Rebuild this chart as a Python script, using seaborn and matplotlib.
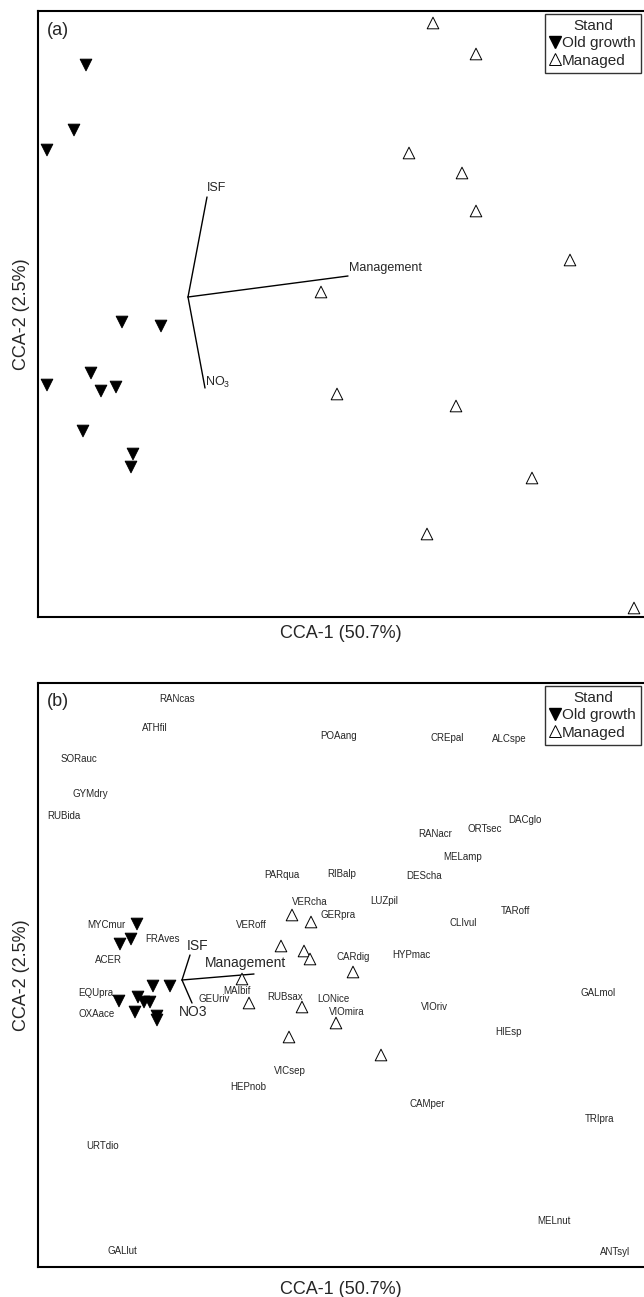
import pandas as pd
import numpy as np
import matplotlib.pyplot as plt
import seaborn as sns
from matplotlib.lines import Line2D

sns.set_style("white")
plt.rcParams['font.family'] = ['Liberation Sans', 'DejaVu Sans']
plt.rcParams['mathtext.default'] = 'regular'

# Site scores (CCA-1, CCA-2), 12 old growth + 12 managed stands
stand = ['Old growth'] * 12 + ['Managed'] * 12

# panel (a)
site_x_a = [-1.02, -1.14, -1.41, -0.66, -0.27, -1.41, -0.97, -0.87, -0.72, -1.05, -0.55, -0.57,
            2.45, 2.88, 2.21, 2.74, 2.88, 3.82, 1.33, 1.49, 2.68, 3.44, 2.39, 4.46]
site_y_a = [2.32, 1.67, 1.47, -0.25, -0.29, -0.88, -0.76, -0.94, -0.90, -1.34, -1.57, -1.70,
            2.74, 2.43, 1.44, 1.24, 0.86, 0.37, 0.05, -0.97, -1.09, -1.81, -2.37, -3.11]

# panel (b)
site_x_b = [-0.45, -0.51, -0.62, -0.29, -0.12, -0.63, -0.44, -0.38, -0.32, -0.47, -0.25, -0.25,
            1.10, 1.29, 0.99, 1.22, 1.28, 1.71, 0.60, 0.67, 1.20, 1.54, 1.07, 1.99]
site_y_b = [0.56, 0.41, 0.36, -0.06, -0.06, -0.21, -0.17, -0.22, -0.22, -0.32, -0.36, -0.40,
            0.65, 0.58, 0.34, 0.29, 0.21, 0.08, 0.01, -0.23, -0.27, -0.43, -0.57, -0.75]

# Environmental vectors
env_a = ['ISF', 'Management', 'NO$_3$']
env_x_a = [0.19, 1.60, 0.17]
env_y_a = [1.00, 0.21, -0.91]
env_lx_a = [0.29, 1.98, 0.30]
env_ly_a = [1.09, 0.29, -0.85]

env_b = ['ISF', 'Management', 'NO3']
env_x_b = [0.08, 0.72, 0.10]
env_y_b = [0.25, 0.06, -0.23]
env_lx_b = [0.16, 0.64, 0.11]
env_ly_b = [0.34, 0.17, -0.32]

# Species scores (panel b)
species = ['RANcas', 'ATHfil', 'POAang', 'CREpal', 'ALCspe', 'SORauc', 'GYMdry', 'RUBida',
           'DACglo', 'ORTsec', 'RANacr', 'MELamp', 'PARqua', 'RIBalp', 'DEScha', 'VERcha',
           'LUZpil', 'TARoff', 'GERpra', 'CLIvul', 'MYCmur', 'VERoff', 'FRAves', 'ACER',
           'CARdig', 'HYPmac', 'EQUpra', 'OXAace', 'GEUriv', 'MAIbif', 'RUBsax', 'LONice',
           'VIOmira', 'VIOriv', 'GALmol', 'HIEsp', 'VICsep', 'HEPnob', 'CAMper', 'TRIpra',
           'URTdio', 'MELnut', 'GALlut', 'ANTsyl']
sp_x = [-0.05, -0.27, 1.57, 2.65, 3.27, -1.03, -0.92, -1.18,
        3.43, 3.03, 2.53, 2.81, 1.00, 1.60, 2.42, 1.28,
        2.02, 3.33, 1.56, 2.81, -0.76, 0.69, -0.20, -0.74,
        1.71, 2.29, -0.86, -0.85, 0.32, 0.55, 1.03, 1.51,
        1.65, 2.52, 4.16, 3.26, 1.08, 0.66, 2.45, 4.18,
        -0.79, 3.72, -0.60, 4.33]
sp_y = [2.81, 2.52, 2.44, 2.42, 2.41, 2.21, 1.86, 1.64,
        1.60, 1.51, 1.46, 1.23, 1.05, 1.06, 1.04, 0.78,
        0.79, 0.69, 0.65, 0.57, 0.55, 0.55, 0.41, 0.20,
        0.23, 0.25, -0.13, -0.34, -0.19, -0.11, -0.17, -0.19,
        -0.32, -0.27, -0.13, -0.52, -0.91, -1.07, -1.24, -1.39,
        -1.66, -2.41, -2.71, -2.72]

W, H = 644, 1297
fig = plt.figure(figsize=(W / 100, H / 100), dpi=100)
ax_a = fig.add_axes([38 / W, 1 - 617 / H, 1 - 38 / W, (617 - 11) / H])
ax_b = fig.add_axes([38 / W, 1 - 1267 / H, 1 - 38 / W, (1267 - 683) / H])

markers = {'Old growth': 'v', 'Managed': '^'}
palette = {'Old growth': 'black', 'Managed': 'white'}


def draw_panel(ax, sx, sy, names, ex, ey, lx, ly, lsize, tag, xpad):
    df = pd.DataFrame({'x': sx, 'y': sy, 'stand': stand})
    sns.scatterplot(data=df, x='x', y='y', hue='stand', style='stand', markers=markers,
                    palette=palette, edgecolor='black', linewidth=0.7, s=70,
                    legend=False, ax=ax, zorder=3)
    for name, x1, y1, tx, ty in zip(names, ex, ey, lx, ly):
        ax.plot([0, x1], [0, y1], color='black', lw=1.0, zorder=2)
        ax.text(tx, ty, name, ha='center', va='center', fontsize=lsize)
    ax.set_xticks([])
    ax.set_yticks([])
    ax.set_xlabel('CCA-1 (50.7%)', fontsize=13, labelpad=xpad)
    ax.set_ylabel('CCA-2 (2.5%)', fontsize=13, labelpad=6)
    for side in ['top', 'left', 'bottom']:
        ax.spines[side].set_color('black')
        ax.spines[side].set_linewidth(1.5)
    ax.spines['right'].set_visible(False)
    ax.text(0.015, 0.968, tag, transform=ax.transAxes, ha='left', va='center', fontsize=13)
    handles = [Line2D([], [], marker='v', ls='', color='black', markersize=8),
               Line2D([], [], marker='^', ls='', markerfacecolor='white',
                      markeredgecolor='black', markeredgewidth=0.7, markersize=8)]
    leg = ax.legend(handles, ['Old growth', 'Managed'], title='Stand', loc='upper right',
                    bbox_to_anchor=(1.0, 1.0), frameon=True, fancybox=False,
                    edgecolor='black', fontsize=11, title_fontsize=11, handlelength=0.6,
                    handletextpad=0.15, borderpad=0.35, labelspacing=0.2, borderaxespad=0.2)
    leg.get_frame().set_linewidth(1.0)


draw_panel(ax_a, site_x_a, site_y_a, env_a, env_x_a, env_y_a, env_lx_a, env_ly_a, 9, '(a)', 6)
ax_a.set_xlim(-1.50, 4.56)
ax_a.set_ylim(-3.20, 2.86)

draw_panel(ax_b, site_x_b, site_y_b, env_b, env_x_b, env_y_b, env_lx_b, env_ly_b, 10, '(b)', 10)
for name, x, y in zip(species, sp_x, sp_y):
    ax_b.text(x, y, name, ha='center', va='center', fontsize=7)
ax_b.set_xlim(-1.44, 4.62)
ax_b.set_ylim(-2.87, 2.97)

fig.savefig('out.png', dpi=100)
